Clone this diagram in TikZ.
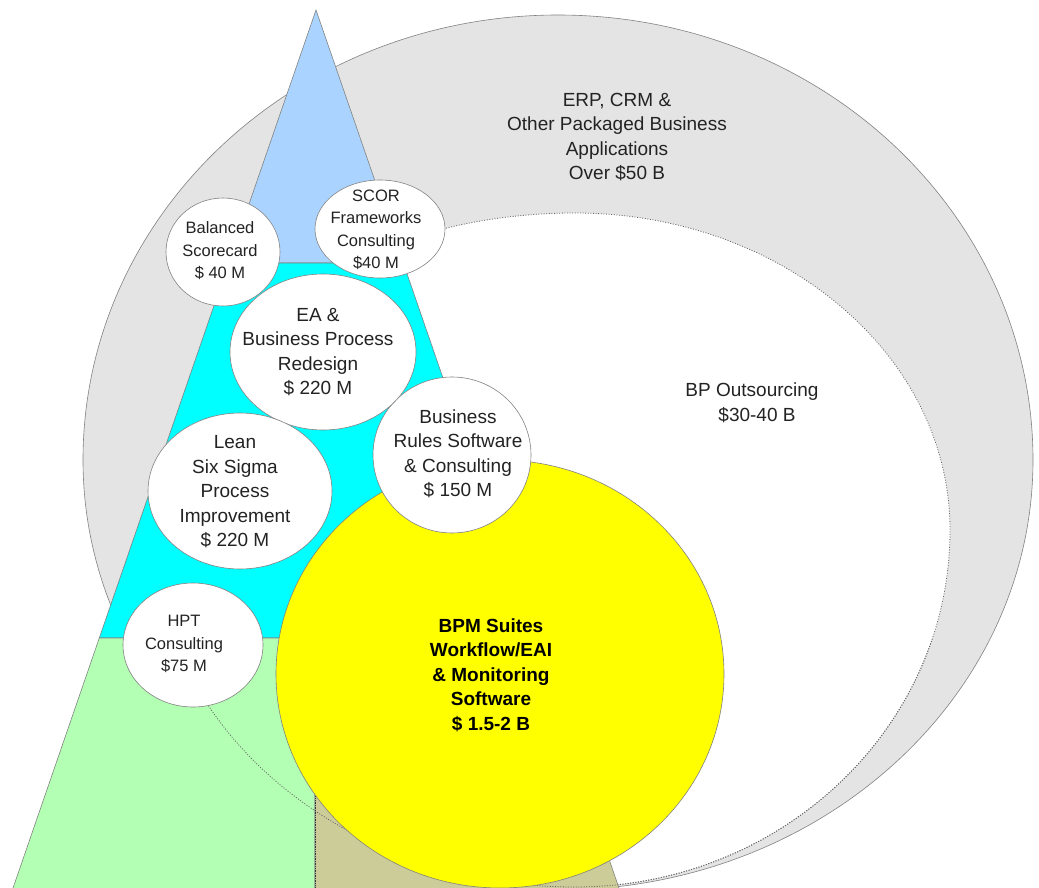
\documentclass[tikz,border=0pt]{standalone}
\usepackage{fontspec}
\setmainfont{Liberation Sans}
\usetikzlibrary{shapes.geometric}
\definecolor{grayfill}{RGB}{228,228,228}
\definecolor{linegray}{RGB}{130,130,130}
\definecolor{bandblue}{RGB}{170,212,255}
\definecolor{bandcyan}{RGB}{0,255,255}
\definecolor{bandgreen}{RGB}{179,255,179}
\definecolor{bandtan}{RGB}{204,204,153}
\definecolor{bpmyellow}{RGB}{255,255,0}
\definecolor{txt}{RGB}{35,35,35}
\newcommand\bigtxt{\fontsize{19}{24.5}\selectfont}
\newcommand\smalltxt{\fontsize{16.5}{22.5}\selectfont}
\begin{document}
\begin{tikzpicture}[x=1pt,y=-1pt,
  outline/.style={draw=linegray,line width=0.6pt},
  innerline/.style={draw=black!60,line width=0.8pt,dash pattern=on 1pt off 1.6pt},
  band/.style={draw=linegray,line width=0.6pt},
  bubble/.style={ellipse,draw=linegray,fill=white,line width=0.6pt,inner sep=0pt},
  bigtext/.style={align=center,text=txt,font=\bigtxt,inner sep=0pt},
  smalltext/.style={align=center,text=txt,font=\smalltxt,inner sep=0pt},
  boldtext/.style={align=center,text=black,font=\bigtxt\bfseries,inner sep=0pt}]
\useasboundingbox (0,0) rectangle (1039,888);
\fill[white] (0,0) rectangle (1039,888);
\begin{scope}
\clip (0,0) rectangle (1039,888);
% outer grey region
\path[outline,fill=grayfill] (83,460)
  arc[start angle=180,end angle=360,x radius=475,y radius=445]
  arc[start angle=0,end angle=180,x radius=475,y radius=430] -- cycle;
% inner white region
\def\innerpath{(154,530)
  arc[start angle=180,end angle=270,x radius=421,y radius=317]
  arc[start angle=270,end angle=360,x radius=375,y radius=317]
  arc[start angle=0,end angle=90,x radius=375,y radius=357]
  arc[start angle=90,end angle=180,x radius=421,y radius=357] -- cycle}
\path[innerline,fill=white] \innerpath;
% triangle bands
\path[band,fill=bandblue] (316,10) -- (403.3,263) -- (228.7,263) -- cycle;
\path[band,fill=bandcyan] (228.7,263) -- (403.3,263) -- (532.7,638) -- (99.3,638) -- cycle;
\path[band,fill=bandgreen] (99.3,638) -- (315,638) -- (315,900) -- (8.9,900) -- cycle;
\path[band,fill=bandtan] (315,638) -- (532.7,638) -- (623.1,900) -- (315,900) -- cycle;
\begin{scope}
\clip (0,639) rectangle (1039,888);
\path[innerline] \innerpath;
\end{scope}
\draw[black!80,line width=0.7pt,densely dotted] (315,640) -- (315,890);
% BPM circle
\node[ellipse,draw=linegray,fill=bpmyellow,line width=0.6pt,inner sep=0pt,
  minimum width=448pt,minimum height=428pt] (bpm) at (500,674) {};
\node[boldtext] (bpmtext) at (491,675) {BPM Suites\\Workflow/EAI\\\& Monitoring\\Software\\\$ 1.5-2 B};
% bubbles
\node[bubble,minimum width=158pt,minimum height=156pt] (br) at (452,455) {};
\node[bigtext] (brtext) at (458,454) {Business\\Rules Software\\\& Consulting\\\$ 150 M};
\node[bubble,minimum width=186pt,minimum height=156pt] (ea) at (323,352) {};
\node[bigtext] (eatext) at (318,352) {EA \&\\Business Process\\Redesign\\\$ 220 M};
\node[bubble,minimum width=184pt,minimum height=156pt] (lean) at (240,491) {};
\node[bigtext] (leantext) at (235,492) {Lean\\Six Sigma\\Process\\Improvement\\\$ 220 M};
\node[bubble,minimum width=140pt,minimum height=124pt] (hpt) at (193,645) {};
\node[smalltext] (hpttext) at (184,644) {HPT\\Consulting\\\$75 M};
\node[bubble,minimum width=114pt,minimum height=108pt] (bal) at (223,252) {};
\node[smalltext] (baltext) at (220,251) {Balanced\\Scorecard\\\$ 40 M};
\node[bubble,minimum width=130pt,minimum height=98pt] (scor) at (380,229) {};
\node[smalltext] (scortext) at (376,230) {SCOR\\Frameworks\\Consulting\\\$40 M};
% region labels
\node[bigtext] (erp) at (617,137) {ERP, CRM \&\\Other Packaged Business\\Applications\\Over \$50 B};
\node[bigtext] (bpo) at (752,403) {BP Outsourcing\\\hspace*{10pt}\$30-40 B};
\end{scope}
\end{tikzpicture}
\end{document}
